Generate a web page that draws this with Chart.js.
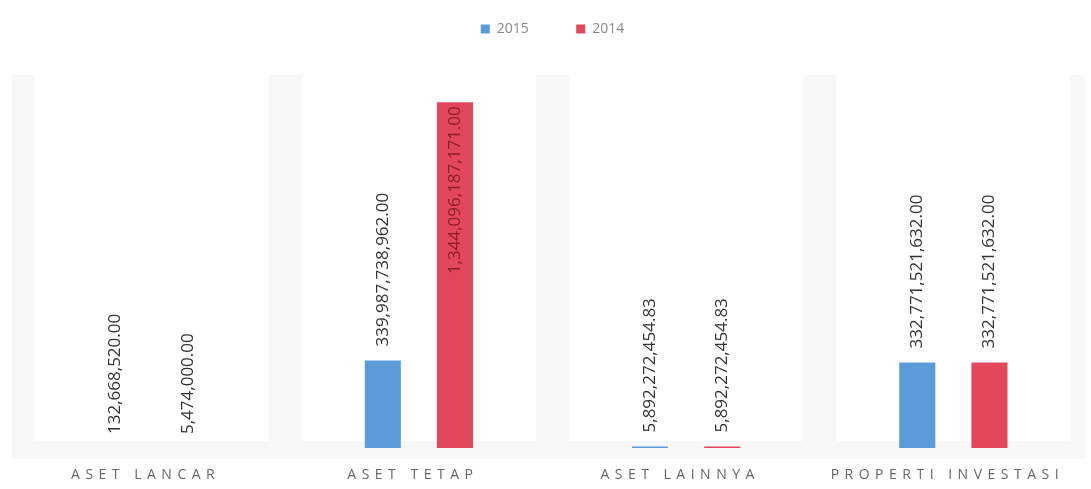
<!DOCTYPE html>
<html>
<head>
<meta charset="utf-8">
<script src="https://cdn.jsdelivr.net/npm/chart.js@4.4.1/dist/chart.umd.min.js"></script>
<style>
  html, body { margin: 0; padding: 0; background: #fff; }
  #wrap { width: 1091px; height: 489px; }
</style>
</head>
<body>
<div id="wrap"><canvas id="grafik" width="1091" height="489"></canvas></div>
<script>
const kategori = ['ASET LANCAR', 'ASET TETAP', 'ASET LAINNYA', 'PROPERTI INVESTASI'];
const tahun = ['2015', '2014'];
const nilai2015 = [132668520.00, 339987738962.00, 5892272454.83, 332771521632.00];
const nilai2014 = [5474000.00, 1344096187171.00, 5892272454.83, 332771521632.00];

const biru = '#5b9bd9';
const merah = '#e2475b';

function formatRupiah(v) {
  return v.toLocaleString('en-US', { minimumFractionDigits: 2, maximumFractionDigits: 2 });
}

// jarak tambahan di bawah legenda
const jarakLegenda = {
  id: 'jarakLegenda',
  beforeInit(chart) {
    const fitAsli = chart.legend.fit;
    chart.legend.fit = function () {
      fitAsli.bind(chart.legend)();
      this.height += 29;
    };
  }
};

// panel putih per kategori di atas latar abu-abu
const latarPanel = {
  id: 'latarPanel',
  beforeDraw(chart) {
    const { ctx, chartArea, scales } = chart;
    ctx.save();
    ctx.fillStyle = '#f7f7f7';
    ctx.fillRect(12, chartArea.top, 1073, chartArea.bottom + 11 - chartArea.top);
    ctx.fillStyle = '#ffffff';
    kategori.forEach((k, i) => {
      const cx = scales.x.getPixelForValue(i);
      ctx.fillRect(cx - 117, chartArea.top, 234, chartArea.bottom - 7 - chartArea.top);
    });
    ctx.restore();
  }
};

// nilai tegak di atas batang, label sumbu x dengan jarak huruf
const labelNilai = {
  id: 'labelNilai',
  afterDatasetsDraw(chart) {
    const { ctx, chartArea, scales } = chart;
    ctx.save();
    ctx.font = '17px "Open Sans", sans-serif';
    ctx.textBaseline = 'middle';
    chart.data.datasets.forEach((ds, di) => {
      const meta = chart.getDatasetMeta(di);
      meta.data.forEach((bar, i) => {
        const teks = formatRupiah(ds.data[i]);
        const w = ctx.measureText(teks).width;
        let awal = bar.y - 14;
        let warna = '#333';
        if (awal - w < chartArea.top) {
          awal = bar.y + 4 + w;
          warna = '#8e1d2c';
        }
        ctx.save();
        ctx.translate(bar.x, awal);
        ctx.rotate(-Math.PI / 2);
        ctx.fillStyle = warna;
        ctx.textAlign = 'left';
        ctx.fillText(teks, 0, 0);
        ctx.restore();
      });
    });

    ctx.font = '14px "Open Sans", sans-serif';
    ctx.letterSpacing = '5.5px';
    ctx.fillStyle = '#666';
    ctx.textAlign = 'center';
    kategori.forEach((k, i) => {
      ctx.fillText(k, scales.x.getPixelForValue(i) - 6, chartArea.bottom + 27);
    });
    ctx.restore();
  }
};

new Chart(document.getElementById('grafik'), {
  type: 'bar',
  data: {
    labels: kategori,
    datasets: [
      { label: tahun[0], data: nilai2015, backgroundColor: biru, categoryPercentage: 0.54, barPercentage: 0.5 },
      { label: tahun[1], data: nilai2014, backgroundColor: merah, categoryPercentage: 0.54, barPercentage: 0.5 }
    ]
  },
  options: {
    responsive: false,
    animation: false,
    layout: { padding: { left: 18, right: 4, top: 0, bottom: 33 } },
    plugins: {
      legend: {
        labels: {
          boxWidth: 9,
          boxHeight: 9,
          color: '#888',
          font: { family: '"Open Sans", sans-serif', size: 14 },
          padding: 22,
          // spasi di belakang item pertama supaya jarak antar item lebih lebar
          generateLabels(chart) {
            const items = Chart.defaults.plugins.legend.labels.generateLabels(chart);
            items[0].text = items[0].text + '       ';
            return items;
          }
        }
      },
      tooltip: { enabled: false }
    },
    scales: {
      x: {
        grid: { display: false },
        border: { display: false },
        ticks: { display: false }
      },
      y: {
        display: false,
        min: 0,
        max: 1450000000000
      }
    }
  },
  plugins: [jarakLegenda, latarPanel, labelNilai]
});
</script>
</body>
</html>
